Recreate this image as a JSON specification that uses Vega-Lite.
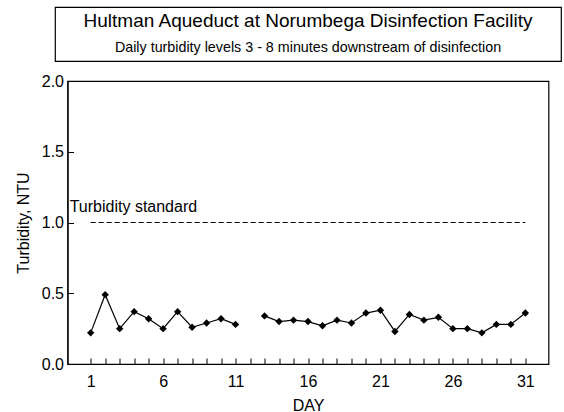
{
  "$schema": "https://vega.github.io/schema/vega-lite/v6.json",
  "background": "white",
  "padding": {"left": 14, "top": 6, "right": 2, "bottom": 2},
  "bounds": "flush",
  "center": true,
  "spacing": 20,
  "config": {
    "font": "Liberation Sans",
    "view": {"stroke": "black", "strokeWidth": 1.2}
  },
  "vconcat": [
    {
      "width": 506,
      "height": 54,
      "layer": [
        {
          "data": {"values": [{"line": "a", "text": "Hultman Aqueduct at Norumbega Disinfection Facility"}, {"line": "b", "text": ""}]},
          "mark": {"type": "text", "fontSize": 19, "font": "Liberation Sans", "color": "black", "baseline": "middle"},
          "encoding": {
            "y": {"field": "line", "type": "nominal", "axis": null, "scale": {"domain": ["a", "b"], "paddingOuter": 0.2, "paddingInner": 0}},
            "text": {"field": "text"}
          }
        },
        {
          "data": {"values": [{"line": "b", "text": "Daily turbidity levels 3 - 8 minutes downstream of disinfection"}]},
          "mark": {"type": "text", "fontSize": 14.3, "font": "Liberation Sans", "color": "black", "baseline": "middle"},
          "encoding": {
            "y": {"field": "line", "type": "nominal", "axis": null, "scale": {"domain": ["a", "b"], "paddingOuter": 0.2, "paddingInner": 0}},
            "text": {"field": "text"}
          }
        }
      ]
    },
    {
      "width": 481,
      "height": 283,
      "layer": [
        {
          "data": {"name": "turb", "values": [
            {"day": 1, "ntu": 0.22}, {"day": 2, "ntu": 0.49}, {"day": 3, "ntu": 0.25}, {"day": 4, "ntu": 0.37},
            {"day": 5, "ntu": 0.32}, {"day": 6, "ntu": 0.25}, {"day": 7, "ntu": 0.37}, {"day": 8, "ntu": 0.26},
            {"day": 9, "ntu": 0.29}, {"day": 10, "ntu": 0.32}, {"day": 11, "ntu": 0.28}, {"day": 12, "ntu": null},
            {"day": 13, "ntu": 0.34}, {"day": 14, "ntu": 0.30}, {"day": 15, "ntu": 0.31}, {"day": 16, "ntu": 0.30},
            {"day": 17, "ntu": 0.27}, {"day": 18, "ntu": 0.31}, {"day": 19, "ntu": 0.29}, {"day": 20, "ntu": 0.36},
            {"day": 21, "ntu": 0.38}, {"day": 22, "ntu": 0.23}, {"day": 23, "ntu": 0.35}, {"day": 24, "ntu": 0.31},
            {"day": 25, "ntu": 0.33}, {"day": 26, "ntu": 0.25}, {"day": 27, "ntu": 0.25}, {"day": 28, "ntu": 0.22},
            {"day": 29, "ntu": 0.28}, {"day": 30, "ntu": 0.28}, {"day": 31, "ntu": 0.36}
          ]},
          "mark": {"type": "line", "color": "black", "strokeWidth": 1.2, "invalid": "break-paths-show-domains",
                   "point": {"filled": true, "shape": "diamond", "size": 55, "color": "black"}},
          "encoding": {
            "x": {
              "field": "day", "type": "quantitative",
              "scale": {"domain": [-0.6, 32.6], "nice": false, "zero": false},
              "axis": {
                "title": "DAY", "titleFontSize": 16, "titleFontWeight": "normal", "titleColor": "black", "titlePadding": 8,
                "values": [1,2,3,4,5,6,7,8,9,10,11,12,13,14,15,16,17,18,19,20,21,22,23,24,25,26,27,28,29,30,31],
                "tickCount": 40,
                "labelExpr": "(datum.value - 1) % 5 == 0 ? datum.label : ''",
                "labelFontSize": 16, "labelColor": "black", "labelPadding": 15,
                "tickSize": -6, "tickColor": "black", "domainColor": "black", "domainWidth": 1.2,
                "grid": false, "labelFlush": false, "labelOverlap": false, "labelBound": false
              }
            },
            "y": {
              "field": "ntu", "type": "quantitative",
              "scale": {"domain": [0, 2], "nice": false},
              "axis": {
                "title": "Turbidity, NTU", "titleFontSize": 16, "titleFontWeight": "normal", "titleColor": "black", "titlePadding": 10,
                "values": [0, 0.5, 1, 1.5, 2], "tickCount": 10, "format": ".1f",
                "labelFontSize": 16, "labelColor": "black", "labelPadding": 10,
                "tickSize": -6, "tickColor": "black", "domainColor": "black", "domainWidth": 1.2,
                "grid": false, "labelFlush": false, "labelOverlap": false
              }
            }
          }
        },
        {
          "data": {"values": [{"x1": 1, "x2": 31, "standard": 1.0}]},
          "mark": {"type": "rule", "color": "black", "strokeWidth": 1.2, "strokeDash": [5, 3]},
          "encoding": {
            "x": {"field": "x1", "type": "quantitative"},
            "x2": {"field": "x2"},
            "y": {"field": "standard", "type": "quantitative"}
          }
        },
        {
          "data": {"values": [{"day": -0.45, "standard": 1.0, "label": "Turbidity standard"}]},
          "mark": {"type": "text", "align": "left", "baseline": "alphabetic", "dy": -11, "fontSize": 16, "color": "black"},
          "encoding": {
            "x": {"field": "day", "type": "quantitative"},
            "y": {"field": "standard", "type": "quantitative"},
            "text": {"field": "label"}
          }
        }
      ]
    }
  ]
}
